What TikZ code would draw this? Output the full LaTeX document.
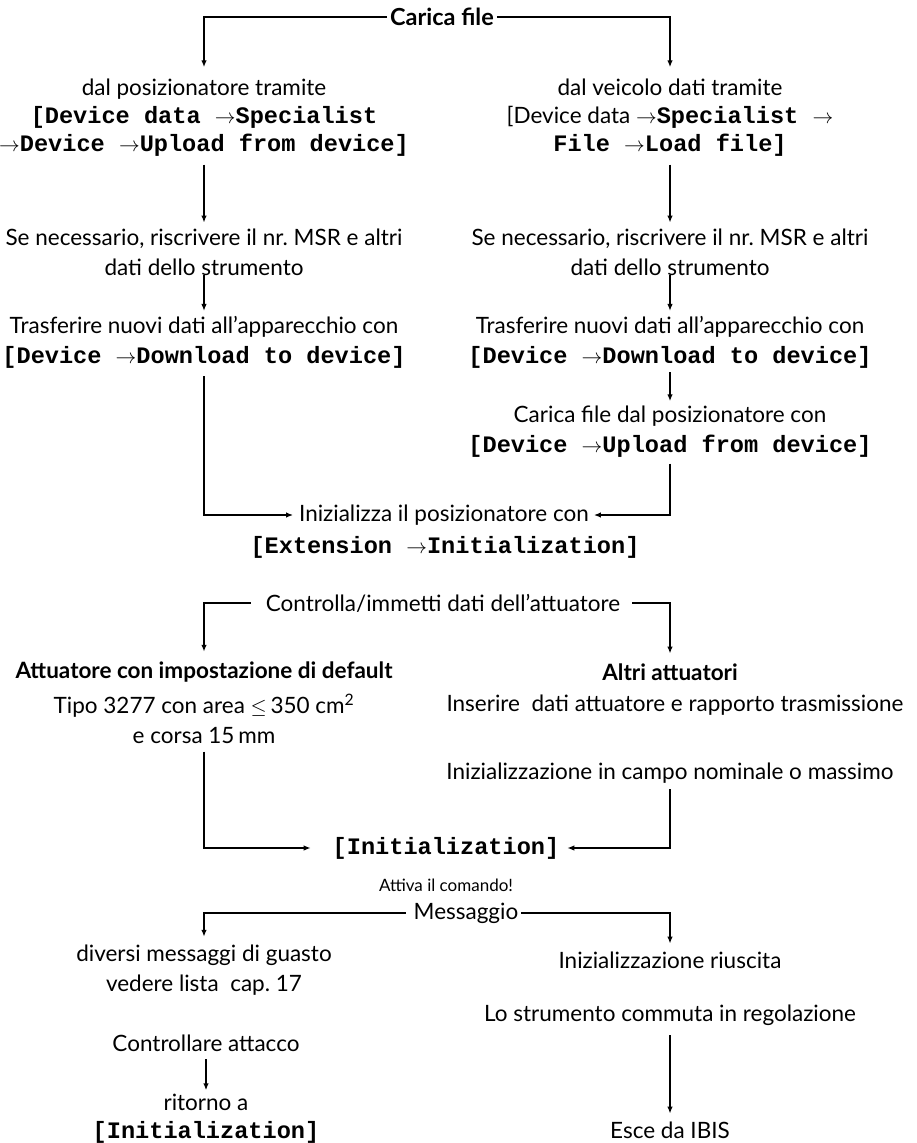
\documentclass[tikz,border=0pt]{standalone}
\usepackage{fontspec}
\setmainfont{Lato}
\setmonofont{Liberation Mono}
\usetikzlibrary{arrows.meta}
\newcommand\mb[1]{{\ttfamily\bfseries\fontsize{23.6}{28}\selectfont #1}}
\newcommand\ra{$\rightarrow$}
\begin{document}
\begin{tikzpicture}[x=1pt,y=-1pt,
  t/.style={font=\fontsize{22.5}{30}\selectfont, align=center, inner sep=0pt, outer sep=0pt},
  tw/.style={t, font=\fontsize{22.5}{28}\selectfont},
  tb/.style={t, font=\fontsize{22.5}{30}\selectfont\bfseries},
  ts/.style={t, font=\fontsize{17}{20}\selectfont},
  ln/.style={line width=2.6pt},
  arr/.style={ln, -{Latex[length=7pt,width=5.5pt]}}]
\useasboundingbox (0,0) rectangle (917,1143);
\fill[white] (0,0) rectangle (917,1143);
% top
\node[tb, outer sep=3pt, font=\fontsize{23.5}{30}\selectfont\bfseries] (carica) at (442,17) {Carica file};
\node[tw] (dalpos) at (204,118) {dal posizionatore tramite\\ \mb{[Device data }\ra\mb{Specialist}\\ \ra\mb{Device }\ra\mb{Upload from device]}};
\node[tw] (dalveic) at (670,118) {dal veicolo dati tramite\\ {[}Device data \ra\mb{Specialist }\ra\\ \mb{File }\ra\mb{Load file]}};
\node[t] (lsec) at (204,252) {Se necessario, riscrivere il nr.\ MSR e altri\\ dati dello strumento};
\node[t] (rsec) at (670,252) {Se necessario, riscrivere il nr.\ MSR e altri\\ dati dello strumento};
\node[t] (ltrans) at (204,342) {Trasferire nuovi dati all’apparecchio con\\ \mb{[Device }\ra\mb{Download to device]}};
\node[t] (rtrans) at (670,342) {Trasferire nuovi dati all’apparecchio con\\ \mb{[Device }\ra\mb{Download to device]}};
\node[t] (rcar) at (670,432) {Carica file dal posizionatore con\\ \mb{[Device }\ra\mb{Upload from device]}};
\node[t] (inz) at (444,515) {Inizializza il posizionatore con};
\node[t] (ext) at (445,547) {\mb{[Extension }\ra\mb{Initialization]}};
% actuator
\node[t] (ctrl) at (443,603) {Controlla/immetti dati dell’attuatore};
\node[tb] (attdef) at (204,672) {Attuatore con impostazione di default};
\node[tb] (altri) at (670,672) {Altri attuatori};
\node[t] (tipo) at (204,719) {Tipo 3277 con area $\leq$\,350 cm\textsuperscript{2}\\ e corsa 15\,mm};
\node[t] (inser) at (675,705) {Inserire~ dati attuatore e rapporto trasmissione};
\node[t] (campo) at (670,773) {Inizializzazione in campo nominale o massimo};
\node[t] (initz) at (446,848) {\mb{[Initialization]}};
\node[ts] (attiva) at (446,885) {Attiva il comando!};
% message
\node[t] (msg) at (466,913) {Messaggio};
\node[t] (divers) at (204,970) {diversi messaggi di guasto\\ vedere lista~ cap.\ 17};
\node[t] (riusc) at (670,960) {Inizializzazione riuscita};
\node[t] (strum) at (670,1015) {Lo strumento commuta in regolazione};
\node[t] (esce) at (670,1130) {Esce da IBIS};
\node[t] (ctrla) at (206,1043) {Controllare attacco};
\node[tw] (ritorno) at (206,1119) {ritorno a\\ \mb{[Initialization]}};
% connectors
\draw[arr] (carica.west) -| ([yshift=12pt]dalpos.north);
\draw[arr] (carica.east) -| ([yshift=12pt]dalveic.north);
\draw[arr] ([yshift=-8pt]dalpos.south) -- ([yshift=6pt]lsec.north);
\draw[arr] ([yshift=-8pt]dalveic.south) -- ([yshift=6pt]rsec.north);
\draw[arr] (lsec.south) -- ([yshift=5pt]ltrans.north);
\draw[arr] (rsec.south) -- ([yshift=5pt]rtrans.north);
\draw[arr] ([yshift=-4pt]rtrans.south) -- ([yshift=5pt]rcar.north);
\draw[arr] ([yshift=-8pt]ltrans.south) |- ([xshift=-6pt]inz.west);
\draw[arr] ([yshift=-6pt]rcar.south) |- ([xshift=5pt]inz.east);
\draw[arr] ([xshift=-15pt]ctrl.west) -| ([yshift=10pt]attdef.north);
\draw[arr] ([xshift=12pt]ctrl.east) -| ([yshift=10pt]altri.north);
\draw[arr] ([yshift=-8pt]tipo.south) |- ([xshift=-22pt]initz.west);
\draw[arr] ([yshift=-6pt]campo.south) |- ([xshift=8pt]initz.east);
\draw[arr] ([xshift=-8pt]msg.west) -| ([yshift=8pt]divers.north);
\draw[arr] ([xshift=3pt]msg.east) -| ([yshift=8pt]riusc.north);
\draw[arr] ([yshift=-10pt]strum.south) -- ([yshift=8pt]esce.north);
\draw[arr] ([yshift=-8pt]ctrla.south) -- ([yshift=4pt]ritorno.north);
\end{tikzpicture}
\end{document}
